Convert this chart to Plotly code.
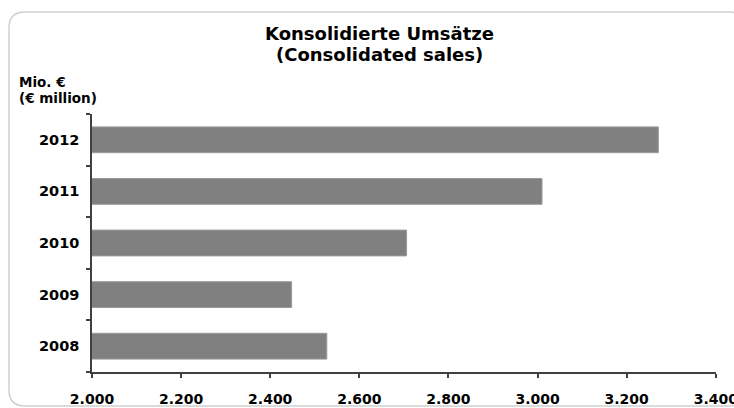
import plotly.graph_objects as go

# Consolidated sales, EUR million
years = ["2008", "2009", "2010", "2011", "2012"]
sales = [2527, 2448, 2706, 3010, 3271]
tick_values = [2000, 2200, 2400, 2600, 2800, 3000, 3200, 3400]
tick_labels = ["2.000", "2.200", "2.400", "2.600", "2.800", "3.000", "3.200", "3.400"]

W, H = 734, 408
L, R, T, B = 92, 18, 114, 36
PW, PH = W - L - R, H - T - B


def px_to_paper(x, y):
    return (x - L) / PW, (H - B - y) / PH


FONT = "DejaVu Sans"
AXIS_COLOR = "#404040"

fig = go.Figure(
    go.Bar(
        x=sales,
        y=years,
        orientation="h",
        marker=dict(color="#808080", line=dict(color="#9a9a9a", width=1)),
        hoverinfo="x+y",
    )
)

# Rounded frame around the whole chart
x0, y0 = px_to_paper(9, 12)
x1, y1 = px_to_paper(745, 406)
rx, ry = 16 / PW, 16 / PH
frame = (
    f"M {x0 + rx},{y0} L {x1 - rx},{y0} Q {x1},{y0} {x1},{y0 - ry} "
    f"L {x1},{y1 + ry} Q {x1},{y1} {x1 - rx},{y1} "
    f"L {x0 + rx},{y1} Q {x0},{y1} {x0},{y1 + ry} "
    f"L {x0},{y0 - ry} Q {x0},{y0} {x0 + rx},{y0} Z"
)


def text_note(text, px, py, size, anchor="center"):
    ax, ay = px_to_paper(px, py)
    return dict(text=f"<b>{text}</b>", x=ax, y=ay, xref="paper", yref="paper",
                showarrow=False, xanchor=anchor, yanchor="middle",
                font=dict(family=FONT, size=size, color="black"))


fig.update_layout(
    width=W,
    height=H,
    margin=dict(l=L, r=R, t=T, b=B, autoexpand=False),
    paper_bgcolor="white",
    plot_bgcolor="white",
    bargap=0.5,
    showlegend=False,
    font=dict(family=FONT, color="black"),
    shapes=[
        dict(type="path", path=frame, xref="paper", yref="paper",
             line=dict(color="#d0d0d0", width=1.5), layer="below"),
    ],
    annotations=[
        text_note("Konsolidierte Umsätze", 379, 34, 18),
        text_note("(Consolidated sales)", 379, 54, 18),
        text_note("Mio. €", 17, 82, 13.5, "left"),
        text_note("(€ million)", 17, 98, 13.5, "left"),
    ],
    xaxis=dict(
        range=[2000, 3400.5],
        tickvals=tick_values,
        ticktext=tick_labels,
        tickfont=dict(family=FONT, size=14, color="black", weight="bold"),
        showgrid=False,
        zeroline=False,
        showline=True,
        linecolor=AXIS_COLOR,
        linewidth=1.5,
        ticks="outside",
        ticklen=4,
        tickcolor=AXIS_COLOR,
        tickwidth=1.5,
        ticklabelstandoff=9,
        ticklabeloverflow="allow",
        automargin=False,
    ),
    yaxis=dict(
        type="category",
        categoryorder="array",
        categoryarray=years,
        tickfont=dict(family=FONT, size=14.5, color="black", weight="bold"),
        showgrid=False,
        zeroline=False,
        showline=True,
        linecolor=AXIS_COLOR,
        linewidth=1.5,
        ticks="outside",
        tickson="boundaries",
        ticklen=4,
        tickcolor=AXIS_COLOR,
        tickwidth=1.5,
        ticklabelstandoff=8,
        automargin=False,
    ),
)

fig.write_html("out.html")
